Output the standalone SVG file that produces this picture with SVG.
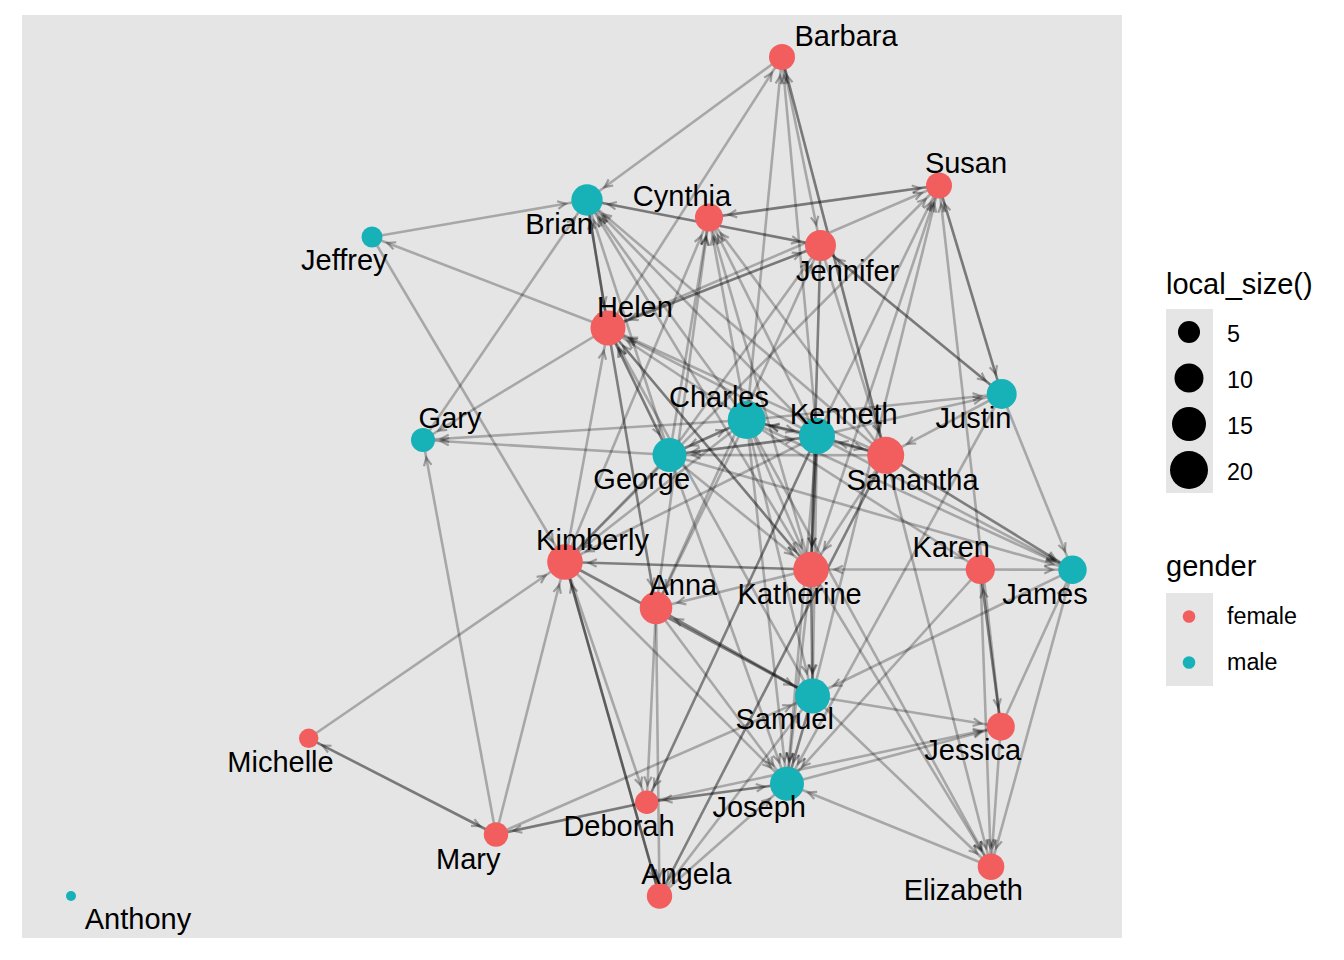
<svg xmlns="http://www.w3.org/2000/svg" xmlns:xlink="http://www.w3.org/1999/xlink" width="1344" height="960" viewBox="0 0 1344 960">
<style>
text{font-family:"Liberation Sans",Arial,Helvetica,sans-serif;fill:#000}
.lab{font-size:29px;text-anchor:middle}
.lt{font-size:29px}
.ll{font-size:23.3px}
.e{stroke:#000;stroke-opacity:0.27;stroke-width:2.6;fill:none}
.d{stroke-opacity:0.45}
.f{fill:#F25E5E}
.m{fill:#17B2B7}
</style>
<defs>
<path id="ah" d="M-8,-3.8 L0,0 L-8,3.8" fill="none" stroke="#000" stroke-opacity="0.32" stroke-width="2.2"/>
<marker id="aBa" markerUnits="userSpaceOnUse" orient="auto" refX="19" refY="0" markerWidth="1" markerHeight="1" overflow="visible"><use href="#ah"/></marker>
<marker id="aSu" markerUnits="userSpaceOnUse" orient="auto" refX="19" refY="0" markerWidth="1" markerHeight="1" overflow="visible"><use href="#ah"/></marker>
<marker id="aCy" markerUnits="userSpaceOnUse" orient="auto" refX="20" refY="0" markerWidth="1" markerHeight="1" overflow="visible"><use href="#ah"/></marker>
<marker id="aJe" markerUnits="userSpaceOnUse" orient="auto" refX="21.5" refY="0" markerWidth="1" markerHeight="1" overflow="visible"><use href="#ah"/></marker>
<marker id="aBr" markerUnits="userSpaceOnUse" orient="auto" refX="21.7" refY="0" markerWidth="1" markerHeight="1" overflow="visible"><use href="#ah"/></marker>
<marker id="aJf" markerUnits="userSpaceOnUse" orient="auto" refX="16.5" refY="0" markerWidth="1" markerHeight="1" overflow="visible"><use href="#ah"/></marker>
<marker id="aHe" markerUnits="userSpaceOnUse" orient="auto" refX="23.5" refY="0" markerWidth="1" markerHeight="1" overflow="visible"><use href="#ah"/></marker>
<marker id="aGa" markerUnits="userSpaceOnUse" orient="auto" refX="18" refY="0" markerWidth="1" markerHeight="1" overflow="visible"><use href="#ah"/></marker>
<marker id="aGe" markerUnits="userSpaceOnUse" orient="auto" refX="23" refY="0" markerWidth="1" markerHeight="1" overflow="visible"><use href="#ah"/></marker>
<marker id="aKi" markerUnits="userSpaceOnUse" orient="auto" refX="23.8" refY="0" markerWidth="1" markerHeight="1" overflow="visible"><use href="#ah"/></marker>
<marker id="aAn" markerUnits="userSpaceOnUse" orient="auto" refX="22.3" refY="0" markerWidth="1" markerHeight="1" overflow="visible"><use href="#ah"/></marker>
<marker id="aCh" markerUnits="userSpaceOnUse" orient="auto" refX="25" refY="0" markerWidth="1" markerHeight="1" overflow="visible"><use href="#ah"/></marker>
<marker id="aKe" markerUnits="userSpaceOnUse" orient="auto" refX="24" refY="0" markerWidth="1" markerHeight="1" overflow="visible"><use href="#ah"/></marker>
<marker id="aSa" markerUnits="userSpaceOnUse" orient="auto" refX="24.5" refY="0" markerWidth="1" markerHeight="1" overflow="visible"><use href="#ah"/></marker>
<marker id="aJu" markerUnits="userSpaceOnUse" orient="auto" refX="21" refY="0" markerWidth="1" markerHeight="1" overflow="visible"><use href="#ah"/></marker>
<marker id="aKa" markerUnits="userSpaceOnUse" orient="auto" refX="23.8" refY="0" markerWidth="1" markerHeight="1" overflow="visible"><use href="#ah"/></marker>
<marker id="aKr" markerUnits="userSpaceOnUse" orient="auto" refX="20.6" refY="0" markerWidth="1" markerHeight="1" overflow="visible"><use href="#ah"/></marker>
<marker id="aJa" markerUnits="userSpaceOnUse" orient="auto" refX="20.2" refY="0" markerWidth="1" markerHeight="1" overflow="visible"><use href="#ah"/></marker>
<marker id="aSm" markerUnits="userSpaceOnUse" orient="auto" refX="23.5" refY="0" markerWidth="1" markerHeight="1" overflow="visible"><use href="#ah"/></marker>
<marker id="aJs" markerUnits="userSpaceOnUse" orient="auto" refX="20" refY="0" markerWidth="1" markerHeight="1" overflow="visible"><use href="#ah"/></marker>
<marker id="aJo" markerUnits="userSpaceOnUse" orient="auto" refX="23" refY="0" markerWidth="1" markerHeight="1" overflow="visible"><use href="#ah"/></marker>
<marker id="aDe" markerUnits="userSpaceOnUse" orient="auto" refX="17.7" refY="0" markerWidth="1" markerHeight="1" overflow="visible"><use href="#ah"/></marker>
<marker id="aAg" markerUnits="userSpaceOnUse" orient="auto" refX="18.7" refY="0" markerWidth="1" markerHeight="1" overflow="visible"><use href="#ah"/></marker>
<marker id="aEl" markerUnits="userSpaceOnUse" orient="auto" refX="19.3" refY="0" markerWidth="1" markerHeight="1" overflow="visible"><use href="#ah"/></marker>
<marker id="aMi" markerUnits="userSpaceOnUse" orient="auto" refX="15.7" refY="0" markerWidth="1" markerHeight="1" overflow="visible"><use href="#ah"/></marker>
<marker id="aMa" markerUnits="userSpaceOnUse" orient="auto" refX="18.2" refY="0" markerWidth="1" markerHeight="1" overflow="visible"><use href="#ah"/></marker>
</defs>
<rect x="0" y="0" width="1344" height="960" fill="#FFFFFF"/>
<rect x="22" y="15" width="1100" height="923" fill="#E5E5E5"/>
<g id="edges">
<line class="e" x1="372" y1="237" x2="587" y2="200" marker-end="url(#aBr)"/>
<line class="e" x1="608" y1="328" x2="372" y2="237" marker-end="url(#aJf)"/>
<line class="e" x1="372" y1="237" x2="565" y2="562" marker-end="url(#aKi)"/>
<line class="e" x1="782" y1="57" x2="587" y2="200" marker-end="url(#aBr)"/>
<line class="e" x1="423" y1="440" x2="587" y2="200" marker-end="url(#aBr)"/>
<line class="e" x1="608" y1="328" x2="423" y2="440" marker-end="url(#aGa)"/>
<line class="e" x1="746.7" y1="420" x2="423" y2="440" marker-end="url(#aGa)"/>
<line class="e" x1="669.5" y1="455" x2="423" y2="440" marker-end="url(#aGa)"/>
<line class="e" x1="496" y1="834.5" x2="423" y2="440" marker-end="url(#aGa)"/>
<line class="e" x1="496" y1="834.5" x2="565" y2="562" marker-end="url(#aKi)"/>
<line class="e" x1="308.7" y1="738.3" x2="565" y2="562" marker-end="url(#aKi)"/>
<line class="e" x1="496" y1="834.5" x2="308.7" y2="738.3" marker-end="url(#aMi)"/>
<line class="e" x1="308.7" y1="738.3" x2="496" y2="834.5" marker-end="url(#aMa)"/>
<line class="e" x1="646.7" y1="802.3" x2="496" y2="834.5" marker-end="url(#aMa)"/>
<line class="e" x1="496" y1="834.5" x2="812.5" y2="696" marker-end="url(#aSm)"/>
<line class="e" x1="496" y1="834.5" x2="1000.8" y2="726.7" marker-end="url(#aJs)"/>
<line class="e" x1="646.7" y1="802.3" x2="787" y2="783.7" marker-end="url(#aJo)"/>
<line class="e" x1="787" y1="783.7" x2="646.7" y2="802.3" marker-end="url(#aDe)"/>
<line class="e" x1="991" y1="866.7" x2="787" y2="783.7" marker-end="url(#aJo)"/>
<line class="e" x1="812.5" y1="696" x2="1000.8" y2="726.7" marker-end="url(#aJs)"/>
<line class="e" x1="1072.5" y1="569.8" x2="812.5" y2="696" marker-end="url(#aSm)"/>
<line class="e" x1="608" y1="328" x2="782" y2="57" marker-end="url(#aBa)"/>
<line class="e" x1="746.7" y1="420" x2="782" y2="57" marker-end="url(#aBa)"/>
<line class="e" x1="817" y1="436" x2="782" y2="57" marker-end="url(#aBa)"/>
<line class="e" x1="885.7" y1="455.3" x2="782" y2="57" marker-end="url(#aBa)"/>
<line class="e" x1="782" y1="57" x2="820.5" y2="245.5" marker-end="url(#aJe)"/>
<line class="e" x1="782" y1="57" x2="885.7" y2="455.3" marker-end="url(#aSa)"/>
<line class="e" x1="709" y1="217.5" x2="939" y2="185.5" marker-end="url(#aSu)"/>
<line class="e" x1="939" y1="185.5" x2="709" y2="217.5" marker-end="url(#aCy)"/>
<line class="e" x1="587" y1="200" x2="820.5" y2="245.5" marker-end="url(#aJe)"/>
<line class="e" x1="820.5" y1="245.5" x2="587" y2="200" marker-end="url(#aBr)"/>
<line class="e" x1="608" y1="328" x2="939" y2="185.5" marker-end="url(#aSu)"/>
<line class="e" x1="608" y1="328" x2="820.5" y2="245.5" marker-end="url(#aJe)"/>
<line class="e" x1="820.5" y1="245.5" x2="608" y2="328" marker-end="url(#aHe)"/>
<line class="e" x1="820.5" y1="245.5" x2="1001.7" y2="394" marker-end="url(#aJu)"/>
<line class="e" x1="1001.7" y1="394" x2="820.5" y2="245.5" marker-end="url(#aJe)"/>
<line class="e d" x1="820.5" y1="245.5" x2="811" y2="569.5" marker-end="url(#aKa)"/>
<line class="e" x1="669.5" y1="455" x2="820.5" y2="245.5" marker-end="url(#aJe)"/>
<line class="e" x1="656" y1="608" x2="820.5" y2="245.5" marker-end="url(#aJe)"/>
<line class="e" x1="820.5" y1="245.5" x2="885.7" y2="455.3" marker-end="url(#aSa)"/>
<line class="e" x1="811" y1="569.5" x2="939" y2="185.5" marker-end="url(#aSu)"/>
<line class="e" x1="812.5" y1="696" x2="939" y2="185.5" marker-end="url(#aSu)"/>
<line class="e" x1="1000.8" y1="726.7" x2="939" y2="185.5" marker-end="url(#aSu)"/>
<line class="e" x1="939" y1="185.5" x2="1001.7" y2="394" marker-end="url(#aJu)"/>
<line class="e" x1="1001.7" y1="394" x2="939" y2="185.5" marker-end="url(#aSu)"/>
<line class="e" x1="565" y1="562" x2="939" y2="185.5" marker-end="url(#aSu)"/>
<line class="e d" x1="587" y1="200" x2="608" y2="328" marker-end="url(#aHe)"/>
<line class="e" x1="608" y1="328" x2="587" y2="200" marker-end="url(#aBr)"/>
<line class="e" x1="746.7" y1="420" x2="587" y2="200" marker-end="url(#aBr)"/>
<line class="e" x1="669.5" y1="455" x2="587" y2="200" marker-end="url(#aBr)"/>
<line class="e" x1="885.7" y1="455.3" x2="587" y2="200" marker-end="url(#aBr)"/>
<line class="e" x1="811" y1="569.5" x2="587" y2="200" marker-end="url(#aBr)"/>
<line class="e" x1="817" y1="436" x2="587" y2="200" marker-end="url(#aBr)"/>
<line class="e" x1="565" y1="562" x2="709" y2="217.5" marker-end="url(#aCy)"/>
<line class="e" x1="669.5" y1="455" x2="709" y2="217.5" marker-end="url(#aCy)"/>
<line class="e" x1="746.7" y1="420" x2="709" y2="217.5" marker-end="url(#aCy)"/>
<line class="e" x1="656" y1="608" x2="709" y2="217.5" marker-end="url(#aCy)"/>
<line class="e" x1="811" y1="569.5" x2="709" y2="217.5" marker-end="url(#aCy)"/>
<line class="e" x1="885.7" y1="455.3" x2="709" y2="217.5" marker-end="url(#aCy)"/>
<line class="e" x1="565" y1="562" x2="608" y2="328" marker-end="url(#aHe)"/>
<line class="e" x1="811" y1="569.5" x2="608" y2="328" marker-end="url(#aHe)"/>
<line class="e" x1="812.5" y1="696" x2="608" y2="328" marker-end="url(#aHe)"/>
<line class="e" x1="746.7" y1="420" x2="608" y2="328" marker-end="url(#aHe)"/>
<line class="e" x1="817" y1="436" x2="608" y2="328" marker-end="url(#aHe)"/>
<line class="e" x1="885.7" y1="455.3" x2="608" y2="328" marker-end="url(#aHe)"/>
<line class="e" x1="608" y1="328" x2="669.5" y2="455" marker-end="url(#aGe)"/>
<line class="e d" x1="608" y1="328" x2="656" y2="608" marker-end="url(#aAn)"/>
<line class="e" x1="669.5" y1="455" x2="608" y2="328" marker-end="url(#aHe)"/>
<line class="e" x1="746.7" y1="420" x2="1001.7" y2="394" marker-end="url(#aJu)"/>
<line class="e" x1="817" y1="436" x2="1001.7" y2="394" marker-end="url(#aJu)"/>
<line class="e" x1="1001.7" y1="394" x2="885.7" y2="455.3" marker-end="url(#aSa)"/>
<line class="e" x1="1001.7" y1="394" x2="1072.5" y2="569.8" marker-end="url(#aJa)"/>
<line class="e" x1="1001.7" y1="394" x2="787" y2="783.7" marker-end="url(#aJo)"/>
<line class="e" x1="885.7" y1="455.3" x2="817" y2="436" marker-end="url(#aKe)"/>
<line class="e" x1="817" y1="436" x2="885.7" y2="455.3" marker-end="url(#aSa)"/>
<line class="e" x1="885.7" y1="455.3" x2="746.7" y2="420" marker-end="url(#aCh)"/>
<line class="e" x1="885.7" y1="455.3" x2="811" y2="569.5" marker-end="url(#aKa)"/>
<line class="e" x1="885.7" y1="455.3" x2="669.5" y2="455" marker-end="url(#aGe)"/>
<line class="e d" x1="885.7" y1="455.3" x2="1072.5" y2="569.8" marker-end="url(#aJa)"/>
<line class="e" x1="746.7" y1="420" x2="1072.5" y2="569.8" marker-end="url(#aJa)"/>
<line class="e" x1="817" y1="436" x2="1072.5" y2="569.8" marker-end="url(#aJa)"/>
<line class="e" x1="980.3" y1="569.5" x2="811" y2="569.5" marker-end="url(#aKa)"/>
<line class="e" x1="980.3" y1="569.5" x2="1072.5" y2="569.8" marker-end="url(#aJa)"/>
<line class="e" x1="1000.8" y1="726.7" x2="1072.5" y2="569.8" marker-end="url(#aJa)"/>
<line class="e" x1="1072.5" y1="569.8" x2="991" y2="866.7" marker-end="url(#aEl)"/>
<line class="e" x1="1000.8" y1="726.7" x2="980.3" y2="569.5" marker-end="url(#aKr)"/>
<line class="e" x1="980.3" y1="569.5" x2="1000.8" y2="726.7" marker-end="url(#aJs)"/>
<line class="e" x1="980.3" y1="569.5" x2="991" y2="866.7" marker-end="url(#aEl)"/>
<line class="e" x1="1000.8" y1="726.7" x2="991" y2="866.7" marker-end="url(#aEl)"/>
<line class="e" x1="980.3" y1="569.5" x2="787" y2="783.7" marker-end="url(#aJo)"/>
<line class="e" x1="746.7" y1="420" x2="980.3" y2="569.5" marker-end="url(#aKr)"/>
<line class="e" x1="811" y1="569.5" x2="991" y2="866.7" marker-end="url(#aEl)"/>
<line class="e" x1="885.7" y1="455.3" x2="991" y2="866.7" marker-end="url(#aEl)"/>
<line class="e" x1="812.5" y1="696" x2="991" y2="866.7" marker-end="url(#aEl)"/>
<line class="e d" x1="811" y1="569.5" x2="812.5" y2="696" marker-end="url(#aSm)"/>
<line class="e" x1="817" y1="436" x2="812.5" y2="696" marker-end="url(#aSm)"/>
<line class="e" x1="746.7" y1="420" x2="812.5" y2="696" marker-end="url(#aSm)"/>
<line class="e d" x1="812.5" y1="696" x2="787" y2="783.7" marker-end="url(#aJo)"/>
<line class="e d" x1="812.5" y1="696" x2="656" y2="608" marker-end="url(#aAn)"/>
<line class="e" x1="811" y1="569.5" x2="787" y2="783.7" marker-end="url(#aJo)"/>
<line class="e" x1="817" y1="436" x2="787" y2="783.7" marker-end="url(#aJo)"/>
<line class="e" x1="746.7" y1="420" x2="787" y2="783.7" marker-end="url(#aJo)"/>
<line class="e" x1="669.5" y1="455" x2="787" y2="783.7" marker-end="url(#aJo)"/>
<line class="e" x1="656" y1="608" x2="787" y2="783.7" marker-end="url(#aJo)"/>
<line class="e" x1="565" y1="562" x2="787" y2="783.7" marker-end="url(#aJo)"/>
<line class="e" x1="787" y1="783.7" x2="1000.8" y2="726.7" marker-end="url(#aJs)"/>
<line class="e" x1="659.5" y1="896" x2="787" y2="783.7" marker-end="url(#aJo)"/>
<line class="e" x1="565" y1="562" x2="646.7" y2="802.3" marker-end="url(#aDe)"/>
<line class="e" x1="656" y1="608" x2="646.7" y2="802.3" marker-end="url(#aDe)"/>
<line class="e d" x1="817" y1="436" x2="646.7" y2="802.3" marker-end="url(#aDe)"/>
<line class="e d" x1="659.5" y1="896" x2="565" y2="562" marker-end="url(#aKi)"/>
<line class="e" x1="565" y1="562" x2="659.5" y2="896" marker-end="url(#aAg)"/>
<line class="e" x1="659.5" y1="896" x2="812.5" y2="696" marker-end="url(#aSm)"/>
<line class="e d" x1="885.7" y1="455.3" x2="659.5" y2="896" marker-end="url(#aAg)"/>
<line class="e" x1="811" y1="569.5" x2="656" y2="608" marker-end="url(#aAn)"/>
<line class="e d" x1="811" y1="569.5" x2="565" y2="562" marker-end="url(#aKi)"/>
<line class="e" x1="669.5" y1="455" x2="565" y2="562" marker-end="url(#aKi)"/>
<line class="e" x1="746.7" y1="420" x2="565" y2="562" marker-end="url(#aKi)"/>
<line class="e" x1="817" y1="436" x2="565" y2="562" marker-end="url(#aKi)"/>
<line class="e d" x1="565" y1="562" x2="812.5" y2="696" marker-end="url(#aSm)"/>
<line class="e" x1="656" y1="608" x2="659.5" y2="896" marker-end="url(#aAg)"/>
<line class="e" x1="669.5" y1="455" x2="746.7" y2="420" marker-end="url(#aCh)"/>
<line class="e" x1="746.7" y1="420" x2="669.5" y2="455" marker-end="url(#aGe)"/>
<line class="e" x1="669.5" y1="455" x2="817" y2="436" marker-end="url(#aKe)"/>
<line class="e" x1="817" y1="436" x2="669.5" y2="455" marker-end="url(#aGe)"/>
<line class="e" x1="746.7" y1="420" x2="817" y2="436" marker-end="url(#aKe)"/>
<line class="e" x1="817" y1="436" x2="746.7" y2="420" marker-end="url(#aCh)"/>
<line class="e" x1="746.7" y1="420" x2="811" y2="569.5" marker-end="url(#aKa)"/>
<line class="e d" x1="817" y1="436" x2="811" y2="569.5" marker-end="url(#aKa)"/>
<line class="e" x1="669.5" y1="455" x2="811" y2="569.5" marker-end="url(#aKa)"/>
<line class="e" x1="608" y1="328" x2="811" y2="569.5" marker-end="url(#aKa)"/>
<line class="e" x1="746.7" y1="420" x2="656" y2="608" marker-end="url(#aAn)"/>
<line class="e" x1="746.7" y1="420" x2="991" y2="866.7" marker-end="url(#aEl)"/>
<line class="e" x1="669.5" y1="455" x2="1072.5" y2="569.8" marker-end="url(#aJa)"/>
<line class="e" x1="817" y1="436" x2="709" y2="217.5" marker-end="url(#aCy)"/>
<line class="e" x1="817" y1="436" x2="939" y2="185.5" marker-end="url(#aSu)"/>
</g>
<g id="node-Barbara"><circle class="f" cx="782" cy="57" r="13"/><text class="lab" x="846" y="46">Barbara</text></g>
<g id="node-Susan"><circle class="f" cx="939" cy="185.5" r="13"/><text class="lab" x="966" y="172.5">Susan</text></g>
<g id="node-Brian"><circle class="m" cx="587" cy="200" r="15.7"/><text class="lab" x="559" y="234">Brian</text></g>
<g id="node-Cynthia"><circle class="f" cx="709" cy="217.5" r="14"/><text class="lab" x="682" y="206">Cynthia</text></g>
<g id="node-Jennifer"><circle class="f" cx="820.5" cy="245.5" r="15.5"/><text class="lab" x="847.7" y="280.5">Jennifer</text></g>
<g id="node-Jeffrey"><circle class="m" cx="372" cy="237" r="10.5"/><text class="lab" x="344.3" y="270">Jeffrey</text></g>
<g id="node-Helen"><circle class="f" cx="608" cy="328" r="17.5"/><text class="lab" x="635" y="317">Helen</text></g>
<g id="node-Justin"><circle class="m" cx="1001.7" cy="394" r="15"/><text class="lab" x="973.5" y="428">Justin</text></g>
<g id="node-Charles"><circle class="m" cx="746.7" cy="420" r="19"/><text class="lab" x="719" y="407">Charles</text></g>
<g id="node-Kenneth"><circle class="m" cx="817" cy="436" r="18"/><text class="lab" x="843.7" y="423.5">Kenneth</text></g>
<g id="node-Gary"><circle class="m" cx="423" cy="440" r="12"/><text class="lab" x="450" y="427.5">Gary</text></g>
<g id="node-George"><circle class="m" cx="669.5" cy="455" r="17"/><text class="lab" x="641.7" y="488.5">George</text></g>
<g id="node-Samantha"><circle class="f" cx="885.7" cy="455.3" r="18.5"/><text class="lab" x="912.5" y="489.5">Samantha</text></g>
<g id="node-Kimberly"><circle class="f" cx="565" cy="562" r="17.8"/><text class="lab" x="592.5" y="550">Kimberly</text></g>
<g id="node-Katherine"><circle class="f" cx="811" cy="569.5" r="17.8"/><text class="lab" x="799.7" y="603.5">Katherine</text></g>
<g id="node-Karen"><circle class="f" cx="980.3" cy="569.5" r="14.6"/><text class="lab" x="951.3" y="556.5">Karen</text></g>
<g id="node-James"><circle class="m" cx="1072.5" cy="569.8" r="14.2"/><text class="lab" x="1045" y="603.5">James</text></g>
<g id="node-Anna"><circle class="f" cx="656" cy="608" r="16.3"/><text class="lab" x="683.3" y="595">Anna</text></g>
<g id="node-Samuel"><circle class="m" cx="812.5" cy="696" r="17.5"/><text class="lab" x="784.7" y="728.5">Samuel</text></g>
<g id="node-Jessica"><circle class="f" cx="1000.8" cy="726.7" r="14"/><text class="lab" x="972.7" y="760">Jessica</text></g>
<g id="node-Michelle"><circle class="f" cx="308.7" cy="738.3" r="9.7"/><text class="lab" x="280.5" y="771.5">Michelle</text></g>
<g id="node-Joseph"><circle class="m" cx="787" cy="783.7" r="17"/><text class="lab" x="759.2" y="817">Joseph</text></g>
<g id="node-Deborah"><circle class="f" cx="646.7" cy="802.3" r="11.7"/><text class="lab" x="619" y="836">Deborah</text></g>
<g id="node-Mary"><circle class="f" cx="496" cy="834.5" r="12.2"/><text class="lab" x="468.3" y="868.5">Mary</text></g>
<g id="node-Elizabeth"><circle class="f" cx="991" cy="866.7" r="13.3"/><text class="lab" x="963.3" y="900">Elizabeth</text></g>
<g id="node-Angela"><circle class="f" cx="659.5" cy="896" r="12.7"/><text class="lab" x="686.3" y="883.5">Angela</text></g>
<g id="node-Anthony"><circle class="m" cx="71" cy="896" r="5"/><text class="lab" x="138" y="929">Anthony</text></g>
<g id="legend">
<text class="lt" x="1166" y="294">local_size()</text>
<rect x="1166" y="309" width="47" height="184" fill="#E5E5E5"/>
<circle cx="1189" cy="332" r="11" fill="#000"/>
<circle cx="1189" cy="378" r="14.5" fill="#000"/>
<circle cx="1189" cy="424" r="17" fill="#000"/>
<circle cx="1189" cy="470" r="19" fill="#000"/>
<text class="ll" x="1227" y="341.5">5</text>
<text class="ll" x="1227" y="387.5">10</text>
<text class="ll" x="1227" y="433.5">15</text>
<text class="ll" x="1227" y="479.5">20</text>
<text class="lt" x="1166" y="576">gender</text>
<rect x="1166" y="593" width="47" height="93" fill="#E5E5E5"/>
<circle class="f" cx="1189" cy="616.5" r="6.3"/>
<circle class="m" cx="1189" cy="662.5" r="6.3"/>
<text class="ll" x="1227" y="624">female</text>
<text class="ll" x="1227" y="670">male</text>
</g>
</svg>
